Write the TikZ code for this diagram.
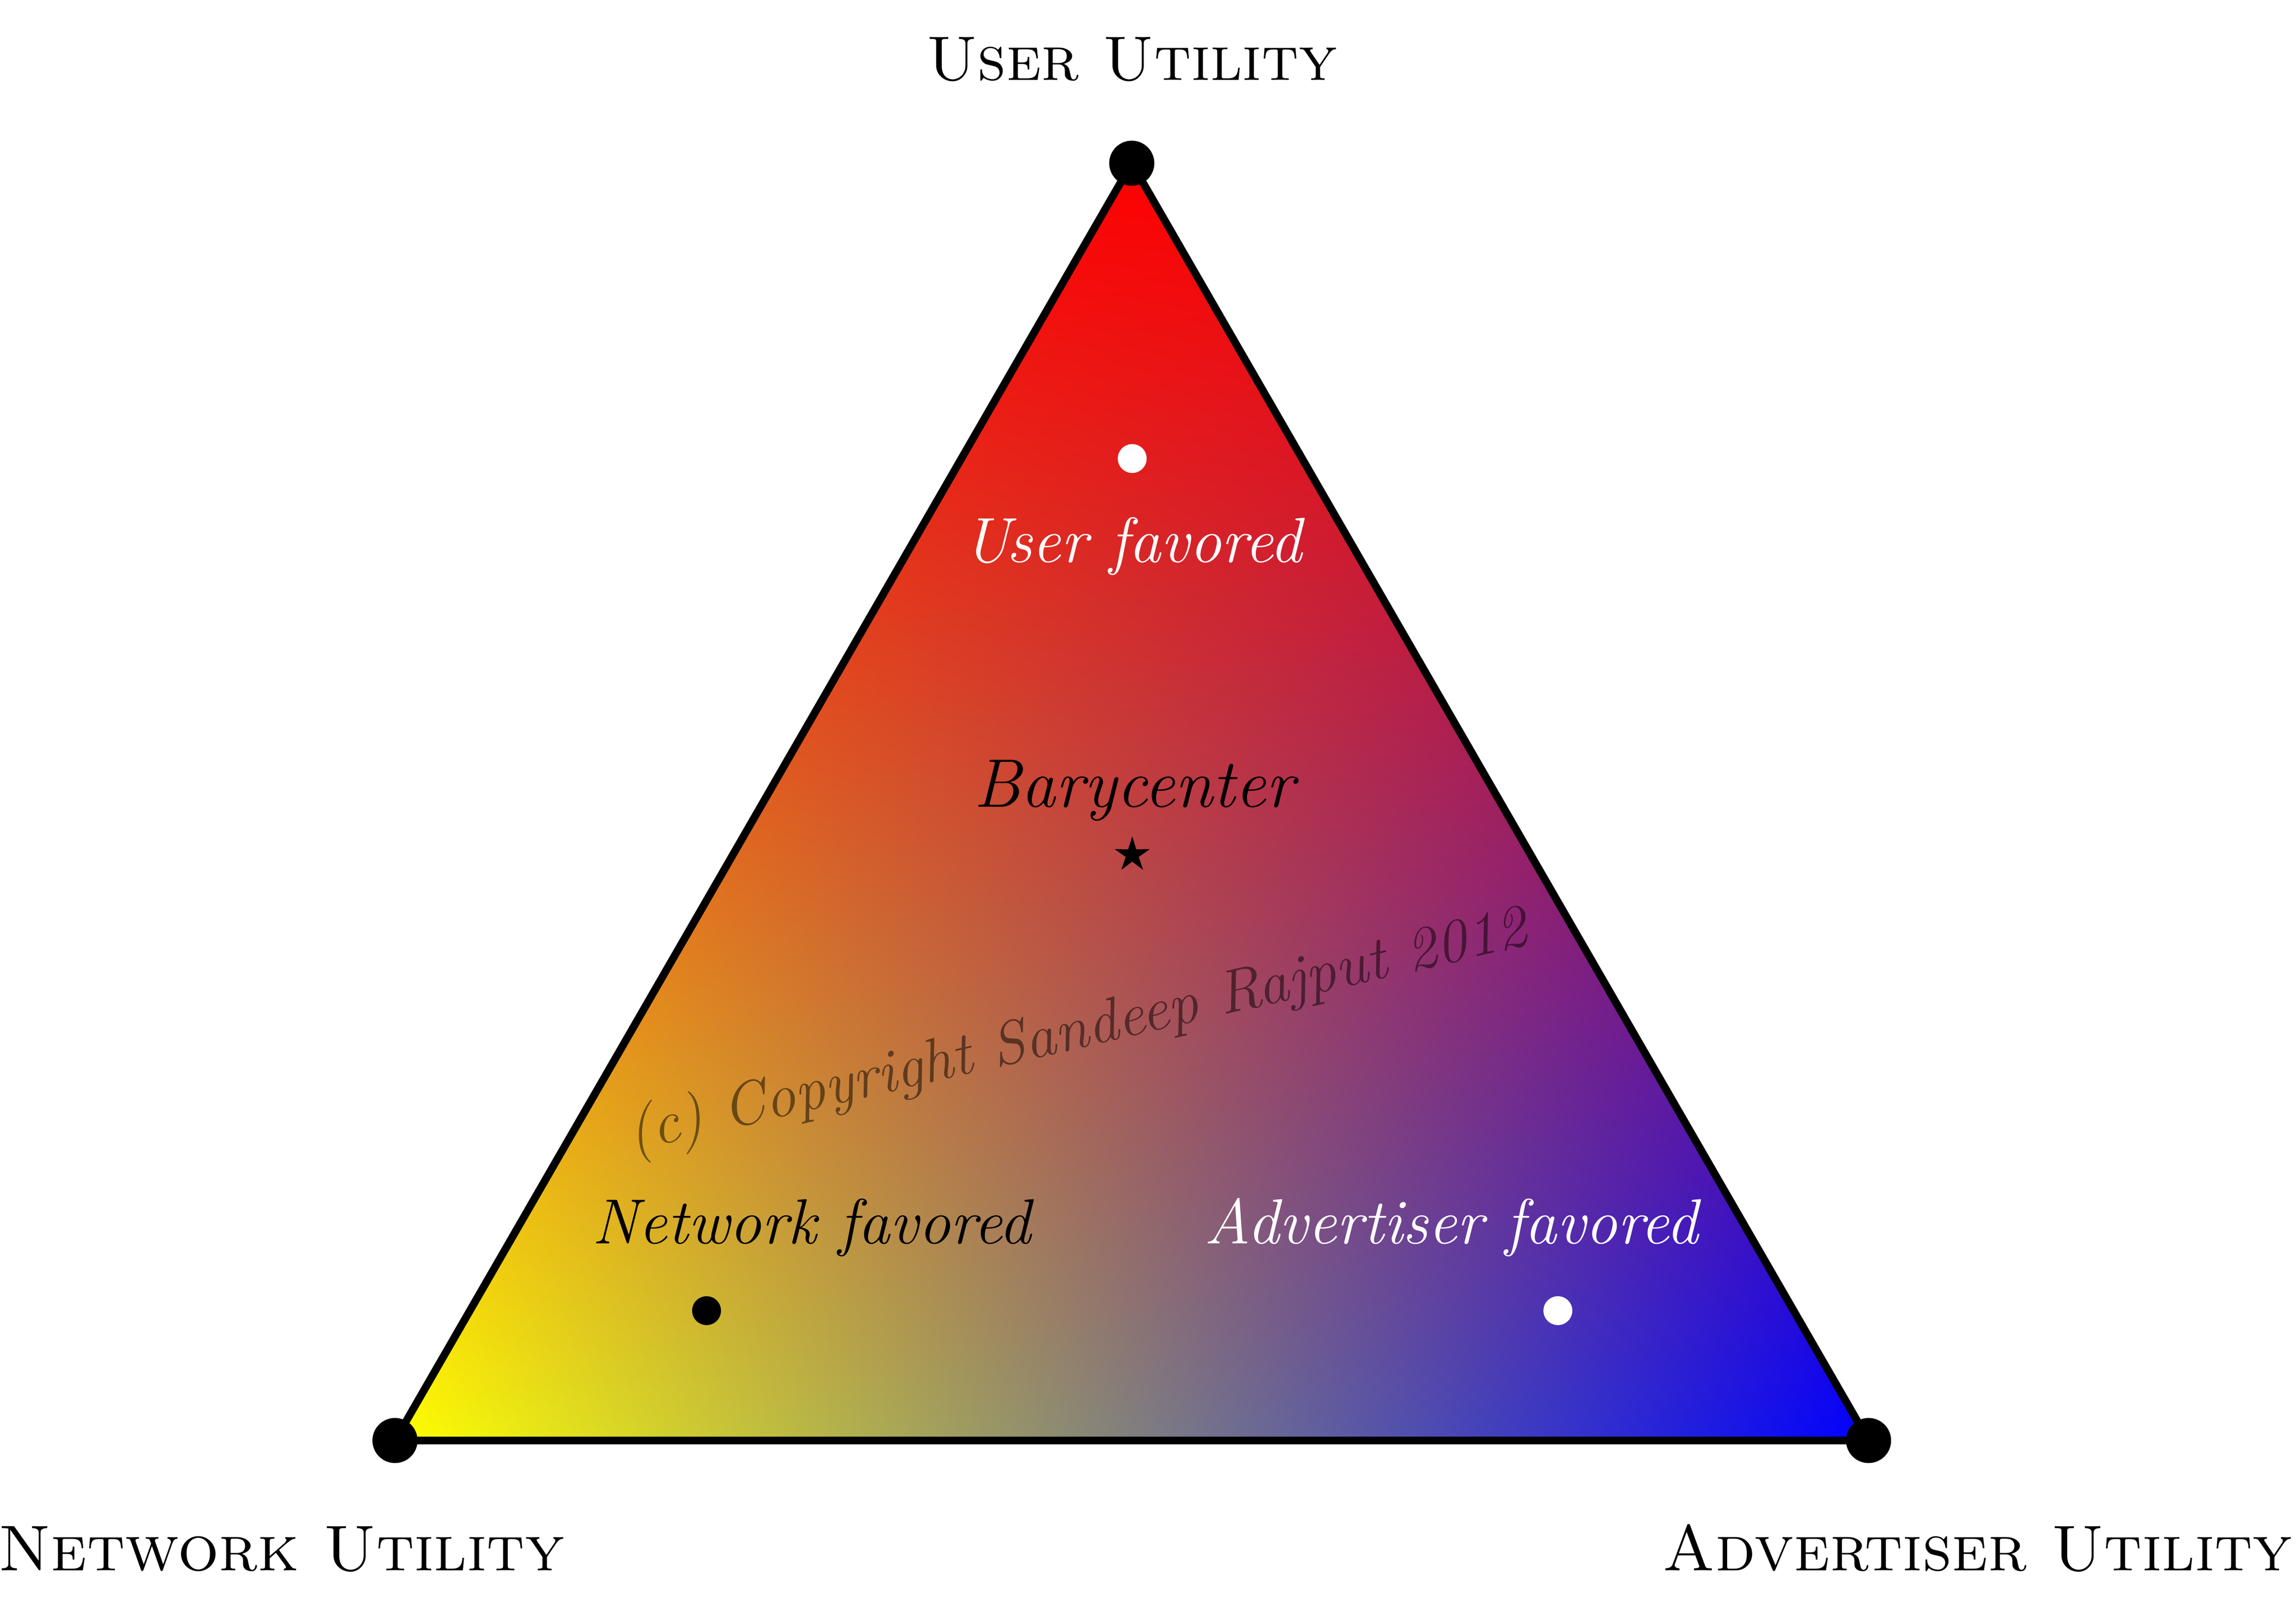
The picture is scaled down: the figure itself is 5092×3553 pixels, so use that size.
\documentclass[tikz,border=0pt]{standalone}
\usepackage{tikz}
\usetikzlibrary{shapes.geometric}
\pgfdeclarefunctionalshading{bary}{\pgfpoint{0bp}{0bp}}{\pgfpoint{326.8bp}{283.3bp}}{}{
 283.3 div exch 326.8 div exch 1 exch sub 2 copy mul 3 1 roll
 exch 1 exch sub mul exch dup 1 exch sub 3 1 roll
}
\begin{document}
\begin{tikzpicture}[x=0.1bp,y=-0.1bp,
  vdot/.style={circle,fill=black,inner sep=0pt,minimum size=10bp},
  sdot/.style={circle,inner sep=0pt,minimum size=6.4bp},
  head/.style={font=\fontsize{14.4}{16}\selectfont\scshape,anchor=base,inner sep=0pt},
  lab/.style={font=\fontsize{14.2}{16}\selectfont\itshape,anchor=base,inner sep=0pt},
  edge/.style={line width=1.7bp,line join=round}]
\useasboundingbox (0,0) rectangle (5092,3553);
\coordinate (U) at (2510,362);
\coordinate (N) at (876,3195);
\coordinate (A) at (4144,3195);
\begin{scope}
  \clip (U)--(N)--(A)--cycle;
  \node[inner sep=0pt,outer sep=0pt,anchor=south west] (shade) at (N) {\pgfuseshading{bary}};
\end{scope}
\draw[edge] (U)--(N)--(A)--cycle;
\node[vdot] (uv) at (U) {};
\node[vdot] (nv) at (N) {};
\node[vdot] (av) at (A) {};
\node[head,font=\fontsize{14}{16}\selectfont\scshape] (uu) at (2510,178) {User Utility};
\node[head] (nu) at (624,3483) {Network Utility};
\node[head,anchor=base east] (au) at (5086,3483) {Advertiser Utility};
\node[sdot,fill=white] (ud) at (2511,1017) {};
\node[lab,text=white] (uf) at (2512,1247) {User favored};
\node[lab,font=\fontsize{15.3}{17}\selectfont\itshape] (bc) at (2515,1790) {Barycenter};
\node[star,star points=5,star point ratio=2.7,minimum size=8.2bp,inner sep=0pt,fill=black] (star) at (2511,1896) {};
\node[anchor=base,inner sep=0pt,rotate=13,text=black,text opacity=0.5,font=\fontsize{13.6}{15}\selectfont\itshape] (wm) at (2397,2324) {(c) Copyright Sandeep Rajput 2012};
\node[lab] (nf) at (1800,2758) {Network favored};
\node[sdot,fill=black] (nd) at (1567,2907) {};
\node[lab,text=white] (af) at (3218,2758) {Advertiser favored};
\node[sdot,fill=white] (ad) at (3455,2907) {};
\end{tikzpicture}
\end{document}
